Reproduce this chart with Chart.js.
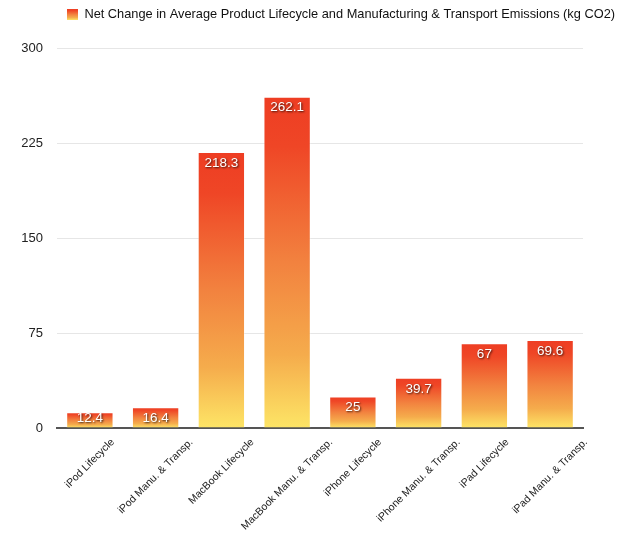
<!DOCTYPE html>
<html>
<head>
<meta charset="utf-8">
<script src="https://cdn.jsdelivr.net/npm/chart.js@4.4.1/dist/chart.umd.min.js"></script>
<style>
  html, body { margin: 0; padding: 0; background: #fff; }
  #wrap { width: 640px; height: 534px; }
</style>
</head>
<body>
<div id="wrap"><canvas id="c" width="640" height="534"></canvas></div>
<script>
  // dados
  const categories = ['iPod Lifecycle', 'iPod Manu. & Transp.', 'MacBook Lifecycle', 'MacBook Manu. & Transp.',
    'iPhone Lifecycle', 'iPhone Manu. & Transp.', 'iPad Lifecycle', 'iPad Manu. & Transp.'];
  const emissions = [12.4, 16.4, 218.3, 262.1, 25, 39.7, 67, 69.6];
  const seriesName = 'Net Change in Average Product Lifecycle and Manufacturing & Transport Emissions (kg CO2)';
  const yTicks = [0, 75, 150, 225, 300];

  const FONT = '"Liberation Sans", Arial, Helvetica, sans-serif';
  const stops = [[0, '#ee3d23'], [0.15, '#ef4626'], [0.5, '#f2823f'], [0.78, '#f5ac4c'], [1, '#fde566']];

  function gradient(ctx, y0, y1) {
    const g = ctx.createLinearGradient(0, y0, 0, y1);
    stops.forEach(([o, c]) => g.addColorStop(o, c));
    return g;
  }

  // gradiente por barra (topo vermelho, base amarela)
  function barFill(c) {
    const chart = c.chart;
    const y = chart.scales.y;
    if (!chart.chartArea || !y || c.type !== 'data') return stops[2][1];
    return gradient(chart.ctx, y.getPixelForValue(c.raw), y.getPixelForValue(0));
  }

  // rótulos brancos com sombra dentro das barras
  const valueLabels = {
    id: 'valueLabels',
    afterDatasetsDraw(chart) {
      const ctx = chart.ctx;
      const base = chart.scales.y.getPixelForValue(0);
      ctx.save();
      ctx.font = '13.5px ' + FONT;
      ctx.textAlign = 'center';
      ctx.textBaseline = 'middle';
      ctx.fillStyle = '#fff';
      ctx.shadowColor = 'rgba(0,0,0,0.75)';
      ctx.shadowBlur = 2;
      ctx.shadowOffsetX = 1;
      ctx.shadowOffsetY = 1;
      chart.getDatasetMeta(0).data.forEach((bar, i) => {
        const y = Math.min(bar.y + 11, base - 10);
        ctx.fillText(String(emissions[i]), bar.x, y);
      });
      ctx.restore();
    }
  };

  // rótulos do eixo x girados 45°, centrados no tick
  const xLabels = {
    id: 'xLabels',
    afterDraw(chart) {
      const ctx = chart.ctx;
      const sx = chart.scales.x;
      const top = sx.top + 9;
      const h = 10;
      ctx.save();
      ctx.font = '10.5px ' + FONT;
      ctx.fillStyle = '#222';
      ctx.textAlign = 'center';
      ctx.textBaseline = 'middle';
      categories.forEach((txt, i) => {
        const w = ctx.measureText(txt).width;
        const cx = sx.getPixelForTick(i);
        const cy = top + Math.SQRT1_2 * (w + h) / 2;
        ctx.save();
        ctx.translate(cx, cy);
        ctx.rotate(-Math.PI / 4);
        ctx.fillText(txt, 0, 0);
        ctx.restore();
      });
      ctx.restore();
    }
  };

  // espaço extra abaixo da legenda e legenda deslocada à direita
  const legendTweak = {
    id: 'legendTweak',
    afterInit(chart) {
      const l = chart.legend;
      const fit = l.fit.bind(l);
      l.fit = function () { fit(); this.height += 18; };
    },
    afterLayout(chart) {
      chart.legend.left = 42;
    }
  };

  new Chart(document.getElementById('c'), {
    type: 'bar',
    data: {
      labels: categories,
      datasets: [{
        label: seriesName,
        data: emissions,
        backgroundColor: barFill,
        borderColor: 'rgba(255,255,255,0.35)',
        borderWidth: 1,
        borderSkipped: 'bottom',
        categoryPercentage: 0.8,
        barPercentage: 0.9
      }]
    },
    options: {
      responsive: false,
      animation: false,
      layout: { padding: 0 },
      plugins: {
        tooltip: { enabled: false },
        legend: {
          position: 'top',
          labels: {
            boxWidth: 11, boxHeight: 11, padding: 8, color: '#111', font: { family: FONT, size: 12.8 },
            generateLabels: chart => Chart.defaults.plugins.legend.labels.generateLabels(chart)
              .map(item => ({ ...item, fillStyle: gradient(chart.ctx, 9, 20), lineWidth: 0, strokeStyle: 'transparent' }))
          }
        }
      },
      scales: {
        x: {
          afterFit: s => { s.height = 106; },
          grid: { display: false },
          border: { color: '#555', width: 2 },
          ticks: { display: false }
        },
        y: {
          min: 0, max: 300,
          afterBuildTicks: s => { s.ticks = yTicks.map(v => ({ value: v })); },
          afterFit: s => { s.width = 57; },
          grid: { color: '#e6e6e6', drawTicks: false },
          border: { display: false },
          ticks: { color: '#222', padding: 14, font: { family: FONT, size: 13 } }
        },
        yRight: {
          position: 'right',
          afterFit: s => { s.width = 57; },
          grid: { display: false },
          border: { display: false },
          ticks: { display: false }
        }
      }
    },
    plugins: [valueLabels, xLabels, legendTweak]
  });
</script>
</body>
</html>
